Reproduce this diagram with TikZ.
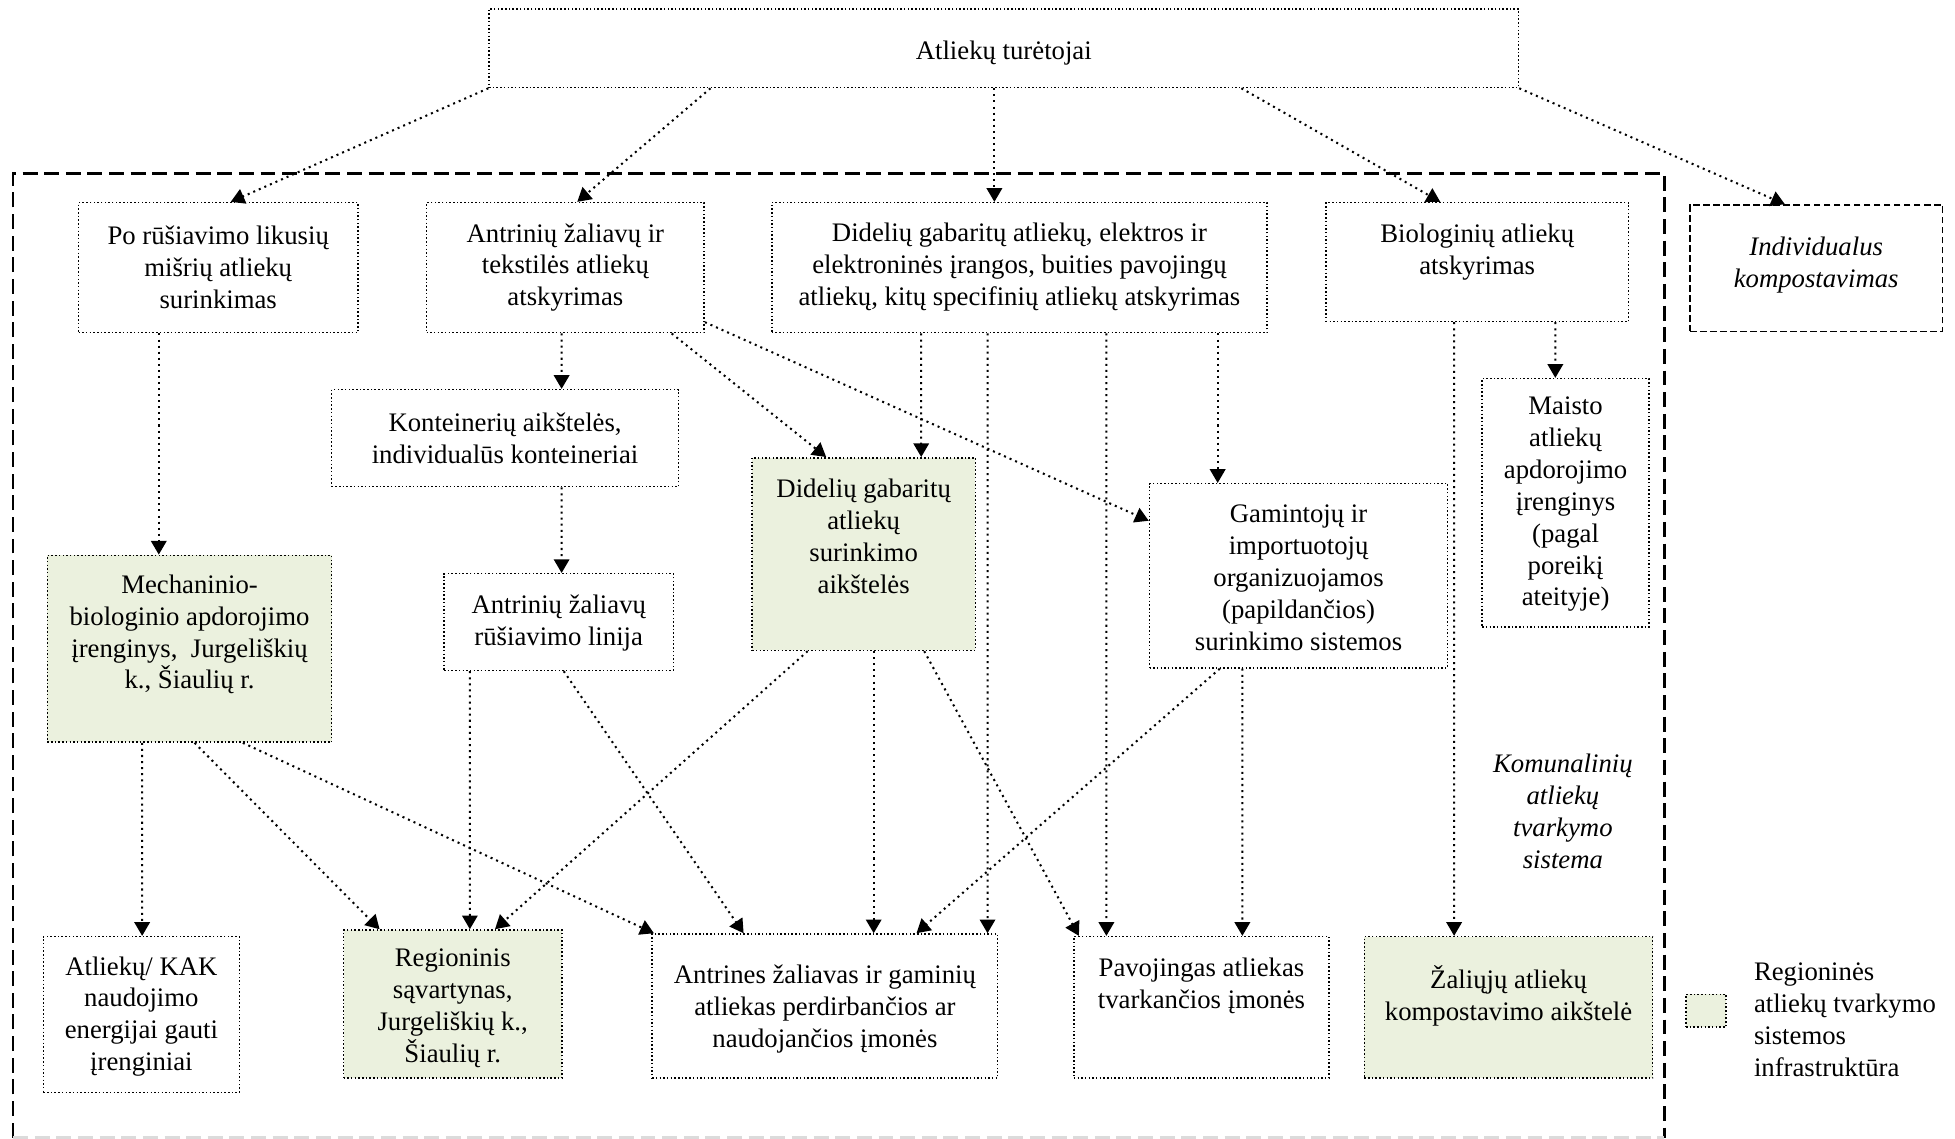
\documentclass[tikz,border=0pt]{standalone}
\usepackage{fontspec}
\setmainfont{Liberation Serif}
\usetikzlibrary{arrows.meta,calc}
\definecolor{infra}{RGB}{235,241,222}
\tikzset{
  boxline/.style={draw=black, line width=0.85pt, dash pattern=on 0.85pt off 1.25pt},
  box/.style={boxline, inner sep=0pt, rectangle},
  infrabox/.style={box, fill=infra},
  indbox/.style={draw=black, inner sep=0pt, rectangle, line width=1pt, dash pattern=on 3.8pt off 1.9pt},
  txt/.style={align=center, inner sep=0pt, font=\fontsize{15.2}{18.1}\selectfont},
  itxt/.style={txt, font=\fontsize{15.2}{18.1}\selectfont\itshape},
  arr/.style={line width=1.15pt, dash pattern=on 1.15pt off 2.3pt, -{Triangle[length=7.8pt,width=8.8pt]}},
  sysline/.style={line width=1.5pt, dash pattern=on 8.5pt off 3.8pt},
}
\newcommand\mkbox[8]{%
  \node[#1, minimum width={(#5-#3)*0.025cm}, minimum height={(#6-#4)*0.025cm}] (#2) at ({(#3+#5)/2},{(#4+#6)/2}) {};
  \node[txt] (#2-t) at ({(#3+#5)/2},#7) {#8};
}
\begin{document}
\begin{tikzpicture}[x=0.025cm,y=-0.025cm]
\useasboundingbox (0,0) rectangle (1563,910.6);
% system frame
\draw[sysline] (10.5,909.5) -- (10.5,138.7) -- (1330.7,138.7) -- (1330.7,909.5);
\draw[sysline, draw=black!14] (10.5,909.5) -- (1330.7,909.5);
% boxes
\mkbox{box}{top}{391}{7}{1214}{70}{42.7}{Atliekų turėtojai}
\mkbox{box}{b1}{62.8}{162}{286.1}{266}{213.8}{Po rūšiavimo likusių\\mišrių atliekų\\surinkimas}
\mkbox{box}{b2}{341}{162}{563}{266}{213.8}{Antrinių žaliavų ir\\tekstilės atliekų\\atskyrimas}
\mkbox{box}{b3}{617}{162}{1013}{266}{213.8}{Didelių gabaritų atliekų, elektros ir\\elektroninės įrangos, buities pavojingų\\atliekų, kitų specifinių atliekų atskyrimas}
\mkbox{box}{b4}{1060}{162}{1302}{257}{201.3}{Biologinių atliekų\\atskyrimas}
\node[indbox, minimum width={202*0.025cm}, minimum height={101*0.025cm}] (b5) at (1452,214.5) {};
\node[itxt] (b5-t) at (1452,212) {Individualus\\kompostavimas};
\mkbox{box}{b6}{265.2}{311.5}{542.4}{389}{350.3}{Konteinerių aikštelės,\\individualūs konteineriai}
\mkbox{infrabox}{b7}{601.3}{366}{779.7}{520}{428.7}{Didelių gabaritų\\atliekų\\surinkimo\\aikštelės}
\mkbox{box}{b8}{919}{386.7}{1157.4}{534}{462}{Gamintojų ir\\importuotojų\\organizuojamos\\(papildančios)\\surinkimo sistemos}
\mkbox{box}{b9}{1185}{302.7}{1318.3}{501.3}{403.3}{Maisto\\atliekų\\apdorojimo\\įrenginys\\(pagal\\poreikį\\ateityje)}
\mkbox{infrabox}{b10}{37.9}{444}{265.2}{593.3}{507.3}{Mechaninio-\\biologinio apdorojimo\\įrenginys,~ Jurgeliškių\\k., Šiaulių r.}
\mkbox{box}{b11}{355}{458.7}{538.4}{536}{498.3}{Antrinių žaliavų\\rūšiavimo linija}
\mkbox{box}{b12}{34.7}{748.8}{191.4}{873.3}{812.6}{Atliekų/ KAK\\naudojimo\\energijai gauti\\įrenginiai}
\mkbox{infrabox}{b13}{274.7}{743.5}{449.2}{862}{806}{Regioninis\\sąvartynas,\\Jurgeliškių k.,\\Šiaulių r.}
\mkbox{box}{b14}{521.4}{746.7}{797.6}{862}{806.7}{Antrines žaliavas ir gaminių\\atliekas perdirbančios ar\\naudojančios įmonės}
\mkbox{box}{b15}{858.5}{748.8}{1062.6}{862}{788}{Pavojingas atliekas\\tvarkančios įmonės}
\mkbox{infrabox}{b16}{1090.8}{748.8}{1321.3}{862}{796}{Žaliųjų atliekų\\kompostavimo aikštelė}
% labels
\node[itxt] (sys-t) at (1249.5,648.7) {Komunalinių\\atliekų\\tvarkymo\\sistema};
\node[infrabox, minimum width={32*0.025cm}, minimum height={26*0.025cm}] (leg) at (1364,808) {};
\node[txt, align=left, anchor=west] (leg-t) at (1402,815.3) {Regioninės\\atliekų tvarkymo\\sistemos\\infrastruktūra};
% connectors from top
\draw[arr] (top.south west) -- ($(b1.north)+(10,0)$);
\draw[arr] ($(top.south)+(-234.5,0)$) -- ($(b2.north)+(9.5,0)$);
\draw[arr] ($(top.south)+(-7.5,0)$) -- ($(b3.north)+(-20,0)$);
\draw[arr] ($(top.south)+(190,0)$) -- ($(b4.north)+(-29.5,0)$);
\draw[arr] (top.south east) -- ($(b5.north)+(-25,0)$);
% second level
\draw[arr] ($(b1.south)+(-47.5,0)$) -- ($(b10.north)+(-24.6,0)$);
\draw[arr] ($(b2.south)+(-3,0)$) -- ($(b6.north)+(45.2,0)$);
\draw[arr] ($(b6.south)+(45.2,0)$) -- ($(b11.north)+(2.3,0)$);
\draw[arr] ($(b2.south)+(85,0)$) -- ($(b7.north)+(-30,0)$);
\draw[arr] ($(b2.south east)+(0,-9)$) -- ($(b8.west)+(0,-44)$);
\draw[arr] ($(b3.south)+(-78.5,0)$) -- ($(b7.north)+(46,0)$);
\draw[arr] ($(b3.south)+(-25.5,0)$) -- ($(b14.north)+(130,0)$);
\draw[arr] ($(b3.south)+(69.5,0)$) -- ($(b15.north)+(-76,0)$);
\draw[arr] ($(b3.south)+(158.5,0)$) -- ($(b8.north)+(-64.7,0)$);
\draw[arr] ($(b4.south)+(-18.5,0)$) -- ($(b16.north)+(-43.5,0)$);
\draw[arr] ($(b4.south)+(62.5,0)$) -- ($(b9.north)+(-8.2,0)$);
% to bottom row
\draw[arr] ($(b10.south)+(-38,0)$) -- ($(b12.north)+(0.6,0)$);
\draw[arr] ($(b10.south)+(4,0)$) -- ($(b13.north)+(-58.5,0)$);
\draw[arr] ($(b10.south)+(42.6,0)$) -- ($(b14.north west)+(2,0)$);
\draw[arr] ($(b11.south)+(-71,0)$) -- ($(b13.north)+(13.7,0)$);
\draw[arr] ($(b11.south)+(4,0)$) -- ($(b14.north)+(-65,0)$);
\draw[arr] ($(b7.south)+(-44.8,0)$) -- ($(b13.north)+(33.8,0)$);
\draw[arr] ($(b7.south)+(8,0)$) -- ($(b14.north)+(39,0)$);
\draw[arr] ($(b7.south)+(48.4,0)$) -- ($(b15.north)+(-98,0)$);
\draw[arr] ($(b8.south)+(-63,0)$) -- ($(b14.north)+(73.2,0)$);
\draw[arr] ($(b8.south)+(-45,0)$) -- ($(b15.north)+(32.7,0)$);
\end{tikzpicture}
\end{document}
